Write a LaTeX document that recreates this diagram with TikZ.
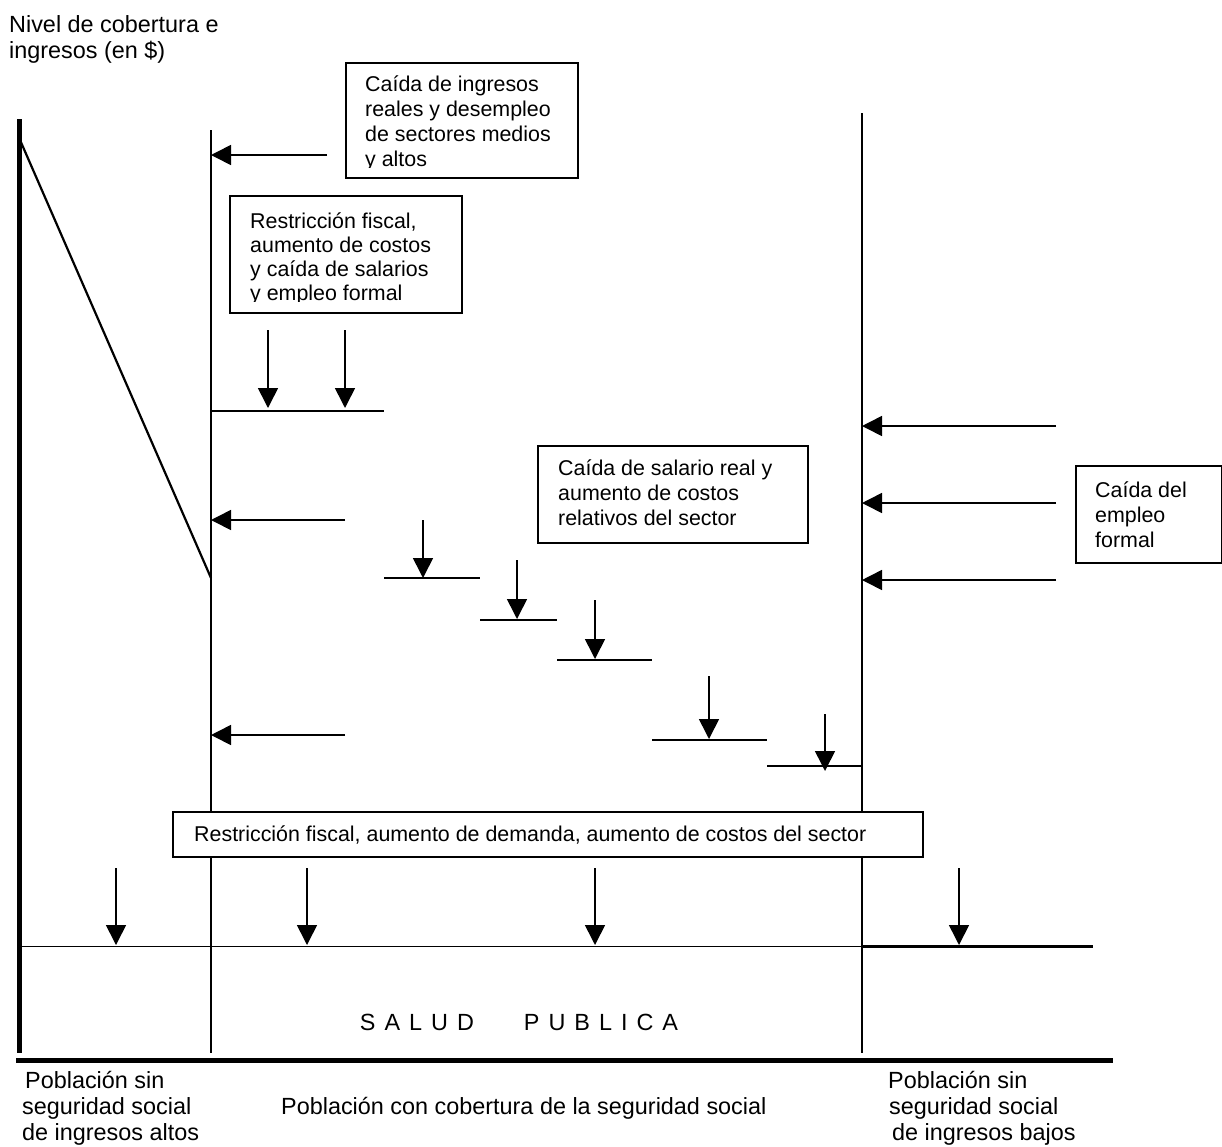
\documentclass[tikz,border=0pt]{standalone}
\usepackage{fontspec}
\setmainfont{Liberation Sans}
\usetikzlibrary{arrows.meta}
\begin{document}
\begin{tikzpicture}[x=1pt,y=-1pt,
  ar/.style={line width=1.6pt,-{Triangle[length=20pt,width=20pt]}},
  vline/.style={line width=1.2pt},
  stepline/.style={line width=2.6pt},
  axisline/.style={line width=5pt},
  diagline/.style={line width=2.2pt},
  boxframe/.style={draw,fill=white,line width=1.8pt,inner sep=0pt,anchor=north west},
  bigtxt/.style={font=\fontsize{23.4}{26}\selectfont,inner sep=0pt,anchor=base west},
  boxtxt/.style={font=\fontsize{21.4}{25}\selectfont,inner sep=0pt,anchor=base west},
]
\useasboundingbox (0,0) rectangle (1222,1146);

% title
\node[bigtxt] (title) at (9,32) {\vtop{\hbox{Nivel de cobertura e}\hbox{ingresos (en \$)}}};

% axes
\coordinate (ytop) at (19,119);
\coordinate (ybot) at (19,1053);
\coordinate (xl) at (16,1060.5);
\coordinate (xr) at (1113,1060.5);
\draw[axisline] (ytop) -- (ybot);
\draw[axisline] (xl) -- (xr);

% thin verticals
\coordinate (v1t) at (211,130);
\coordinate (v1b) at (211,1053);
\coordinate (v2t) at (862,113);
\coordinate (v2b) at (862,1053);
\draw[vline] (v1t) -- (v1b);
\draw[vline] (v2t) -- (v2b);

% diagonal
\coordinate (d1) at (20,140);
\coordinate (d2) at (211,578);
\draw[diagline] (d1) -- (d2);

% left arrows
\coordinate (la1) at (327,155);  \coordinate (la1e) at (211,155);
\coordinate (la2) at (345,520);  \coordinate (la2e) at (211,520);
\coordinate (la3) at (345,735);  \coordinate (la3e) at (211,735);
\draw[ar] (la1) -- (la1e);
\draw[ar] (la2) -- (la2e);
\draw[ar] (la3) -- (la3e);

% right arrows
\coordinate (ra1) at (1056,426); \coordinate (ra1e) at (862,426);
\coordinate (ra2) at (1056,503); \coordinate (ra2e) at (862,503);
\coordinate (ra3) at (1056,580); \coordinate (ra3e) at (862,580);
\draw[ar] (ra1) -- (ra1e);
\draw[ar] (ra2) -- (ra2e);
\draw[ar] (ra3) -- (ra3e);

% steps
\coordinate (s1a) at (211,411); \coordinate (s1b) at (384,411);
\coordinate (s2a) at (384,578); \coordinate (s2b) at (480,578);
\coordinate (s3a) at (480,620); \coordinate (s3b) at (557,620);
\coordinate (s4a) at (557,660); \coordinate (s4b) at (652,660);
\coordinate (s5a) at (652,740); \coordinate (s5b) at (767,740);
\coordinate (s6a) at (767,766); \coordinate (s6b) at (862,766);
\foreach \s in {1,...,6} {\draw[stepline] (s\s a) -- (s\s b);}

% down arrows on steps
\coordinate (da1) at (268,330); \coordinate (da1e) at (268,408);
\coordinate (da2) at (345,330); \coordinate (da2e) at (345,408);
\coordinate (da3) at (423,520); \coordinate (da3e) at (423,578);
\coordinate (da4) at (517,560); \coordinate (da4e) at (517,619);
\coordinate (da5) at (595,600); \coordinate (da5e) at (595,659);
\coordinate (da6) at (709,676); \coordinate (da6e) at (709,739);
\coordinate (da7) at (825,714); \coordinate (da7e) at (825,771);
\foreach \a in {1,...,7} {\draw[ar] (da\a) -- (da\a e);}

% bottom arrows and line
\coordinate (ba1) at (116,868); \coordinate (ba1e) at (116,945);
\coordinate (ba2) at (307,868); \coordinate (ba2e) at (307,945);
\coordinate (ba3) at (595,868); \coordinate (ba3e) at (595,945);
\coordinate (ba4) at (959,868); \coordinate (ba4e) at (959,945);
\foreach \a in {1,...,4} {\draw[ar] (ba\a) -- (ba\a e);}
\coordinate (bl1) at (19,946.5); \coordinate (bl2) at (862,946.5); \coordinate (bl3) at (1093,946.5);
\draw[vline] (bl1) -- (bl2);
\draw[stepline] (bl2) -- (bl3);

% box 1
\node[boxframe,minimum width=232pt,minimum height=115pt] (b1) at (345,62) {};
\begin{scope}
\clip (345,62) rectangle (578,167);
\node[boxtxt] (t1) at (365,91) {\vtop{\hbox{Caída de ingresos}\hbox{reales y desempleo}\hbox{de sectores medios}\hbox{y altos}}};
\end{scope}

% box 2
\node[boxframe,minimum width=232pt,minimum height=117pt] (b2) at (229,195) {};
\begin{scope}
\clip (229,195) rectangle (461,301);
\node[boxtxt] (t2) at (250,228) {\vtop{\baselineskip=24pt\hbox{Restricción fiscal,}\hbox{aumento de costos}\hbox{y caída de salarios}\hbox{y empleo formal}}};
\end{scope}

% box 3
\node[boxframe,minimum width=270pt,minimum height=97pt] (b3) at (537,445) {};
\node[boxtxt] (t3) at (558,475) {\vtop{\hbox{Caída de salario real y}\hbox{aumento de costos}\hbox{relativos del sector}}};

% box 4
\node[boxframe,minimum width=146pt,minimum height=97pt] (b4) at (1075,465) {};
\node[boxtxt] (t4) at (1095,497) {\vtop{\hbox{Caída del}\hbox{empleo}\hbox{formal}}};

% box 5
\node[boxframe,minimum width=750pt,minimum height=45pt] (b5) at (172,811) {};
\node[boxtxt] (t5) at (194,841) {Restricción fiscal, aumento de demanda, aumento de costos del sector};

% SALUD PUBLICA
\node[font=\fontsize{23.4}{26}\selectfont,inner sep=0pt,anchor=base] (sp) at (519,1030)
  {S\hspace{9pt}A\hspace{9pt}L\hspace{9pt}U\hspace{9pt}D\hspace{50pt}P\hspace{9pt}U\hspace{9pt}B\hspace{9pt}L\hspace{9pt}I\hspace{9pt}C\hspace{9pt}A};

% bottom labels
\node[bigtxt] (lab1a) at (25,1088) {Población sin};
\node[bigtxt] (lab1b) at (22,1114) {\vtop{\hbox{seguridad social}\hbox{de ingresos altos}}};
\node[bigtxt] (lab2) at (281,1114) {Población con cobertura de la seguridad social};
\node[bigtxt] (lab3a) at (888,1088) {Población sin};
\node[bigtxt] (lab3b) at (889,1114) {seguridad social};
\node[bigtxt] (lab3c) at (892,1140) {de ingresos bajos};
\end{tikzpicture}
\end{document}
